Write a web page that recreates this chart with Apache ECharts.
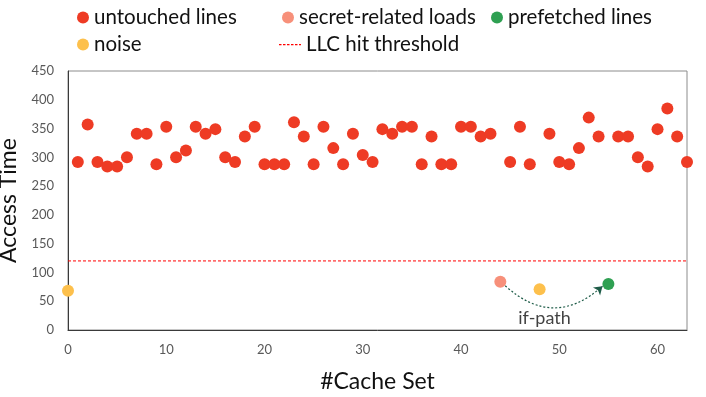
<!DOCTYPE html>
<html>
<head>
<meta charset="utf-8">
<script src="https://cdn.jsdelivr.net/npm/echarts@6/dist/echarts.min.js"></script>
<style>html,body{margin:0;padding:0;background:#fff}#c{width:706px;height:397px}</style>
</head>
<body>
<div id="c"></div>
<script>
// ---- data ----
var untouchedSets  = [1,2,3,4,5,6,7,8,9,10,11,12,13,14,15,16,17,18,19,20,21,22,23,24,25,26,27,28,29,30,31,32,33,34,35,36,37,38,39,40,41,42,43,45,46,47,49,50,51,52,53,54,56,57,58,59,60,61,62,63];
var untouchedTimes = [292,357,292,284,284,300,341,341,288,353,300,312,353,341,349,300,292,336,353,288,288,288,361,336,288,353,316,288,341,304,292,349,341,353,353,288,336,288,288,353,353,336,341,292,353,288,341,292,288,316,369,336,336,336,300,284,349,385,336,292];
var secretSets = [44];
var secretTimes = [84];
var prefetchedSets = [55];
var prefetchedTimes = [80];
var noiseSets = [0, 48];
var noiseTimes = [68, 71];
var thresholdValue = 120;
var xTicks = [0, 10, 20, 30, 40, 50, 60];
var yTicks = [0, 50, 100, 150, 200, 250, 300, 350, 400, 450];
var arrowFrom = [44.5, 77];
var arrowTo = [54.4, 76];
var arrowLabel = 'if-path';
var arrowLabelPos = [48.5, 20];

function zip(xs, ys) { return xs.map(function (x, i) { return [x, ys[i]]; }); }

var FONT = 'Lato';
var chart = echarts.init(document.getElementById('c'), null, { renderer: 'canvas' });

function legendAt(item, left, top, extra) {
  var l = {
    data: [item], left: left, top: top, itemWidth: 12, itemHeight: 12, itemGap: 0,
    icon: 'circle', padding: 0,
    textStyle: { fontFamily: FONT, fontSize: 20.5, color: '#111', padding: [0, 0, 0, 0] }
  };
  if (extra) { for (var k in extra) l[k] = extra[k]; }
  return l;
}
var dashIcon = 'path://M0,0 L0,0 Z M22,12 L22,12 Z' +
  ' M0,5.5 L2.5,5.5 L2.5,6.7 L0,6.7 Z M4,5.5 L6.5,5.5 L6.5,6.7 L4,6.7 Z M8,5.5 L10.5,5.5 L10.5,6.7 L8,6.7 Z' +
  ' M12,5.5 L14.5,5.5 L14.5,6.7 L12,6.7 Z M16,5.5 L18.5,5.5 L18.5,6.7 L16,6.7 Z M20,5.5 L22,5.5 L22,6.7 L20,6.7 Z';

chart.setOption({
  animation: false,
  textStyle: { fontFamily: FONT },
  grid: { left: 68, right: 19, top: 71, bottom: 67, outerBoundsMode: 'none', containLabel: false,
    show: true, borderColor: '#8c8c8c', borderWidth: 1 },
  legend: [
    legendAt('untouched lines', 77, 7),
    legendAt('secret-related loads', 282, 7),
    legendAt('prefetched lines', 491, 7),
    legendAt('noise', 77, 34),
    legendAt({ name: 'LLC hit threshold', icon: dashIcon }, 279, 34, { itemWidth: 22, itemHeight: 12, icon: dashIcon })
  ],
  xAxis: {
    type: 'value', min: xTicks[0], max: 63, interval: 10,
    name: '#Cache Set', nameLocation: 'middle', nameGap: 40,
    nameTextStyle: { fontFamily: FONT, fontSize: 23, color: '#111' },
    axisLine: { show: true, onZero: false, lineStyle: { color: '#3a3a3a', width: 1 } },
    axisTick: { show: false },
    splitLine: { show: false },
    axisLabel: { color: '#595959', fontSize: 13, margin: 13, showMaxLabel: false,
      formatter: function (v) { return xTicks.indexOf(v) >= 0 ? String(v) : ''; } }
  },
  yAxis: {
    type: 'value', min: yTicks[0], max: yTicks[yTicks.length - 1], interval: 50,
    name: 'Access Time', nameLocation: 'middle', nameGap: 40,
    nameTextStyle: { fontFamily: FONT, fontSize: 23, color: '#111' },
    axisLine: { show: true, lineStyle: { color: '#3a3a3a', width: 1 } },
    axisTick: { show: false },
    splitLine: { show: false },
    axisLabel: { color: '#595959', fontSize: 13, margin: 14 }
  },
  series: [
    { name: 'untouched lines', type: 'scatter', data: zip(untouchedSets, untouchedTimes),
      symbolSize: 12, itemStyle: { color: '#EE3B24', opacity: 1 }, z: 3 },
    { name: 'secret-related loads', type: 'scatter', data: zip(secretSets, secretTimes),
      symbolSize: 12, itemStyle: { color: '#F7907A', opacity: 1 }, z: 3 },
    { name: 'prefetched lines', type: 'scatter', data: zip(prefetchedSets, prefetchedTimes),
      symbolSize: 12, itemStyle: { color: '#2FA052', opacity: 1 }, z: 3 },
    { name: 'noise', type: 'scatter', data: zip(noiseSets, noiseTimes),
      symbolSize: 12, itemStyle: { color: '#FDC04C', opacity: 1 }, z: 3 },
    { name: 'LLC hit threshold', type: 'line', data: [[0, thresholdValue], [63, thresholdValue]],
      symbol: 'none', showSymbol: false,
      lineStyle: { color: '#FF0000', width: 1, type: [3, 2] },
      itemStyle: { color: '#FF0000' }, z: 2 },
    { type: 'lines', coordinateSystem: 'cartesian2d', z: 4,
      symbol: ['none', 'arrow'], symbolSize: 8,
      lineStyle: { color: '#1E5C48', width: 1.2, type: [2, 2], curveness: -0.45, opacity: 1 },
      data: [{ coords: [arrowFrom, arrowTo] }] },
    { type: 'scatter', data: [arrowLabelPos], symbolSize: 1, itemStyle: { color: 'rgba(0,0,0,0)' },
      label: { show: true, position: 'inside', formatter: arrowLabel, fontFamily: FONT, fontSize: 18, color: '#111' },
      z: 5, silent: true }
  ]
});
</script>
</body>
</html>
